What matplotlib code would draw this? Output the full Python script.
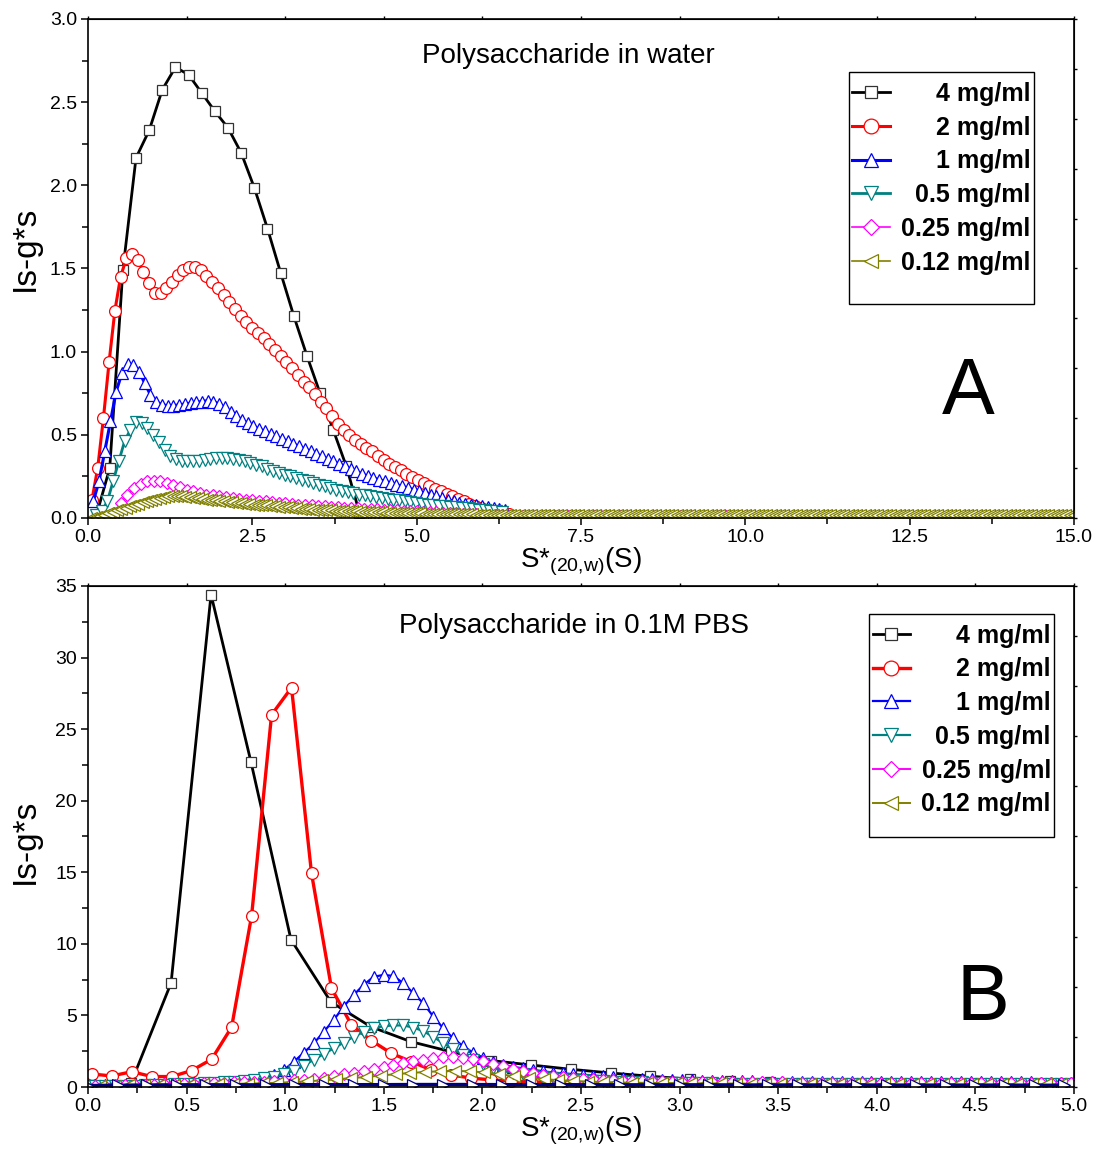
import matplotlib
matplotlib.use("Agg")
import matplotlib.pyplot as plt
import numpy as np
from matplotlib.patches import Rectangle
from matplotlib.ticker import FormatStrFormatter, MultipleLocator

plt.rcParams["font.family"] = ["Liberation Sans", "DejaVu Sans"]
plt.rcParams["mathtext.default"] = "regular"

# ---------------- panel A : polysaccharide in water ----------------
# sampling grids (start, step) per series, x in S
a_black_grid = (0.13, 0.2)
a_red_grid = (0.06, 0.087)
a_blue_grid = (0.08, 0.087)
a_teal_grid = (0.12, 0.087)
a_mag_grid = (0.3, 0.1)
a_olive_grid = (0.05, 0.065)

a_black = [0.02, 0.30, 1.49, 2.165, 2.33, 2.575, 2.71, 2.665, 2.555, 2.445,
           2.345, 2.195, 1.985, 1.74, 1.475, 1.215, 0.975, 0.75, 0.53, 0.31,
           0.03, 0.0]

a_red = [0.11, 0.30, 0.60, 0.94, 1.245, 1.45, 1.56, 1.59, 1.55, 1.48,
         1.41, 1.355, 1.35, 1.38, 1.42, 1.46, 1.49, 1.51, 1.51, 1.49,
         1.455, 1.42, 1.385, 1.34, 1.30, 1.255, 1.215, 1.18, 1.145, 1.11,
         1.08, 1.045, 1.01, 0.975, 0.94, 0.90, 0.86, 0.82, 0.79, 0.745,
         0.70, 0.66, 0.61, 0.565, 0.53, 0.50, 0.47, 0.445, 0.42, 0.40,
         0.375, 0.35, 0.325, 0.305, 0.29, 0.265, 0.245, 0.23, 0.21, 0.19,
         0.175, 0.16, 0.145, 0.13, 0.115, 0.10, 0.085, 0.07, 0.06, 0.05,
         0.04, 0.035, 0.03, 0.025]

a_blue = [0.10, 0.22, 0.40, 0.58, 0.76, 0.87, 0.925, 0.92, 0.88, 0.81,
          0.74, 0.70, 0.68, 0.675, 0.675, 0.68, 0.685, 0.69, 0.695, 0.70,
          0.705, 0.70, 0.685, 0.665, 0.64, 0.615, 0.59, 0.57, 0.55, 0.535,
          0.52, 0.505, 0.49, 0.475, 0.46, 0.445, 0.43, 0.415, 0.40, 0.385,
          0.37, 0.355, 0.34, 0.325, 0.31, 0.295, 0.28, 0.265, 0.25, 0.24,
          0.23, 0.22, 0.21, 0.20, 0.19, 0.18, 0.17, 0.16, 0.15, 0.14,
          0.13, 0.12, 0.11, 0.10, 0.09, 0.085, 0.08, 0.075, 0.07, 0.065,
          0.06, 0.055, 0.05]

a_teal = [0.02, 0.04, 0.10, 0.22, 0.34, 0.46, 0.53, 0.575, 0.57, 0.54,
          0.50, 0.455, 0.41, 0.375, 0.355, 0.345, 0.34, 0.34, 0.345, 0.35,
          0.355, 0.36, 0.36, 0.36, 0.355, 0.35, 0.34, 0.33, 0.32, 0.31,
          0.295, 0.285, 0.27, 0.26, 0.25, 0.24, 0.23, 0.22, 0.21, 0.20,
          0.19, 0.18, 0.17, 0.16, 0.155, 0.15, 0.14, 0.135, 0.13, 0.125,
          0.12, 0.115, 0.11, 0.105, 0.10, 0.095, 0.09, 0.085, 0.08, 0.077,
          0.074, 0.07, 0.067, 0.064, 0.06, 0.057, 0.054, 0.05, 0.047, 0.044,
          0.04, 0.037]

a_mag = [0.00, 0.03, 0.09, 0.14, 0.18, 0.205, 0.22, 0.225, 0.22, 0.21,
         0.20, 0.185, 0.17, 0.16, 0.15, 0.14, 0.135, 0.13, 0.125, 0.12,
         0.115, 0.11, 0.105, 0.10, 0.10, 0.095, 0.09, 0.09, 0.085, 0.08,
         0.08, 0.075, 0.07, 0.07, 0.065, 0.065, 0.06, 0.06, 0.058, 0.056,
         0.054, 0.052, 0.05, 0.048, 0.046, 0.044, 0.042, 0.04, 0.038, 0.036,
         0.034, 0.032, 0.03, 0.028, 0.026, 0.024, 0.022, 0.02, 0.018, 0.016,
         0.015, 0.014, 0.013, 0.012, 0.012, 0.012, 0.012, 0.012, 0.012, 0.012,
         0.012, 0.012, 0.012, 0.012, 0.012, 0.012, 0.012, 0.012, 0.012, 0.012,
         0.012, 0.012, 0.012, 0.012, 0.012, 0.012, 0.012, 0.012, 0.012, 0.012,
         0.012, 0.012, 0.012, 0.012, 0.012, 0.012, 0.012, 0.012]

a_olive = [0.00, 0.005, 0.01, 0.02, 0.03, 0.035, 0.045, 0.055, 0.06, 0.07,
           0.08, 0.085, 0.095, 0.10, 0.11, 0.115, 0.12, 0.125, 0.13, 0.13,
           0.13, 0.13, 0.125, 0.125, 0.12, 0.12, 0.115, 0.11, 0.11, 0.105,
           0.10, 0.10, 0.095, 0.095, 0.09, 0.09, 0.085, 0.085, 0.08, 0.08,
           0.075, 0.075, 0.07, 0.07, 0.068, 0.065, 0.063, 0.06, 0.058, 0.056,
           0.054, 0.052, 0.05, 0.049, 0.048, 0.046, 0.045, 0.044, 0.043, 0.042,
           0.041, 0.04, 0.039, 0.038, 0.037, 0.036, 0.035, 0.034, 0.033, 0.032,
           0.032, 0.031, 0.03, 0.03, 0.029, 0.028, 0.028, 0.027, 0.026, 0.026,
           0.025, 0.025, 0.024, 0.024, 0.023, 0.023, 0.022, 0.022, 0.021, 0.021,
           0.02, 0.02, 0.02, 0.019, 0.019, 0.018, 0.018, 0.018, 0.017, 0.017,
           0.017,
           0.016, 0.016, 0.016, 0.016, 0.016, 0.016, 0.016, 0.016, 0.016, 0.016,
           0.016, 0.016, 0.016, 0.016, 0.016, 0.016, 0.016, 0.016, 0.016, 0.016,
           0.016, 0.016, 0.016, 0.016, 0.016, 0.016, 0.016, 0.016, 0.016, 0.016,
           0.016, 0.016, 0.016, 0.016, 0.016, 0.016, 0.016, 0.016, 0.016, 0.016,
           0.016, 0.016, 0.016, 0.016, 0.016, 0.016, 0.016, 0.016, 0.016, 0.016,
           0.016, 0.016, 0.016, 0.016, 0.016, 0.016, 0.016, 0.016, 0.016, 0.016,
           0.016, 0.016, 0.016, 0.016, 0.016, 0.016, 0.016, 0.016, 0.016, 0.016,
           0.016, 0.016, 0.016, 0.016, 0.016, 0.016, 0.016, 0.016, 0.016, 0.016,
           0.016, 0.016, 0.016, 0.016, 0.016, 0.016, 0.016, 0.016, 0.016, 0.016,
           0.016, 0.016, 0.016, 0.016, 0.016, 0.016, 0.016, 0.016, 0.016, 0.016,
           0.016, 0.016, 0.016, 0.016, 0.016, 0.016, 0.016, 0.016, 0.016, 0.016,
           0.016, 0.016, 0.016, 0.016, 0.016, 0.016, 0.016, 0.016, 0.016, 0.016,
           0.016, 0.016, 0.016, 0.016, 0.016, 0.016, 0.016, 0.016, 0.016, 0.016]

# ---------------- panel B : polysaccharide in 0.1M PBS ----------------
b_black_grid = (0.016, 0.2026)
b_red_grid = (0.019, 0.1013)
b_fine_grid = (0.034, 0.0505)
b_olive_grid = (0.06, 0.075)
b_navy_grid = (0.0, 0.15)

b_black = [0.14, 0.30, 7.27, 34.4, 22.7, 10.3, 5.94, 4.21, 3.17, 2.47,
           1.85, 1.54, 1.24, 0.98, 0.75, 0.55, 0.42, 0.32, 0.25, 0.20,
           0.17, 0.15, 0.13, 0.12, 0.11]

b_red = [0.91, 0.77, 1.07, 0.73, 0.73, 1.15, 1.94, 4.18, 11.95, 26.0,
         27.9, 14.93, 6.9, 4.33, 3.24, 2.35, 1.77, 1.19, 0.84, 0.62,
         0.50, 0.42, 0.36, 0.32, 0.30, 0.28, 0.27, 0.26, 0.25, 0.24,
         0.23, 0.22, 0.22, 0.21, 0.21, 0.20, 0.20, 0.20, 0.19, 0.19,
         0.19, 0.18, 0.18, 0.18, 0.18, 0.17, 0.17, 0.17, 0.17, 0.17]

b_blue = [0.12, 0.13, 0.14, 0.15, 0.16, 0.17, 0.18, 0.20, 0.22, 0.24,
          0.25, 0.27, 0.29, 0.32, 0.36, 0.42, 0.50, 0.60, 0.84, 1.19,
          1.77, 2.40, 3.05, 3.86, 4.68, 5.62, 6.43, 7.13, 7.70, 7.83,
          7.76, 7.24, 6.55, 5.85, 4.92, 4.10, 3.40, 2.85, 2.40, 2.05,
          1.75, 1.55, 1.40, 1.30, 1.20, 1.10, 1.00, 0.95, 0.90, 0.85,
          0.80, 0.75, 0.70, 0.66, 0.62, 0.58, 0.55, 0.52, 0.50, 0.48,
          0.46, 0.44, 0.43, 0.42, 0.41, 0.40, 0.39, 0.38, 0.38, 0.37,
          0.37, 0.36, 0.36, 0.36, 0.35, 0.35, 0.35, 0.35, 0.34, 0.34,
          0.34, 0.34, 0.34, 0.33, 0.33, 0.33, 0.33, 0.33, 0.33, 0.32,
          0.32, 0.32, 0.32, 0.32, 0.32, 0.31, 0.31, 0.31, 0.31]

b_teal = [0.05, 0.06, 0.07, 0.08, 0.10, 0.12, 0.14, 0.16, 0.18, 0.20,
          0.22, 0.25, 0.28, 0.32, 0.36, 0.42, 0.50, 0.60, 0.72, 0.90,
          1.15, 1.50, 1.90, 2.30, 2.70, 3.10, 3.50, 3.85, 4.10, 4.25,
          4.30, 4.30, 4.15, 3.90, 3.50, 3.05, 2.65, 2.25, 1.90, 1.60,
          1.35, 1.15, 1.00, 0.88, 0.78, 0.70, 0.63, 0.57, 0.52, 0.48,
          0.44, 0.41, 0.38, 0.36, 0.34, 0.32, 0.30, 0.29, 0.28, 0.27,
          0.26, 0.25, 0.25, 0.24, 0.24, 0.23, 0.23, 0.22, 0.22, 0.22,
          0.21, 0.21, 0.21, 0.21, 0.20, 0.20, 0.20, 0.20, 0.20, 0.20,
          0.19, 0.19, 0.19, 0.19, 0.19, 0.19, 0.19, 0.18, 0.18, 0.18,
          0.18, 0.18, 0.18, 0.18, 0.18, 0.18, 0.18, 0.18, 0.18]

b_mag = [0.10, 0.10, 0.12, 0.12, 0.14, 0.15, 0.16, 0.18, 0.20, 0.22,
         0.24, 0.26, 0.28, 0.30, 0.32, 0.34, 0.36, 0.38, 0.40, 0.43,
         0.47, 0.52, 0.58, 0.66, 0.76, 0.88, 1.00, 1.13, 1.27, 1.42,
         1.55, 1.67, 1.80, 1.92, 2.02, 2.08, 2.10, 2.05, 1.95, 1.80,
         1.62, 1.45, 1.28, 1.12, 0.98, 0.86, 0.76, 0.68, 0.62, 0.57,
         0.53, 0.50, 0.47, 0.45, 0.43, 0.41, 0.40, 0.39, 0.38, 0.37,
         0.36, 0.35, 0.35, 0.34, 0.34, 0.33, 0.33, 0.32, 0.32, 0.32,
         0.31, 0.31, 0.31, 0.30, 0.30, 0.30, 0.30, 0.30, 0.29, 0.29,
         0.29, 0.29, 0.29, 0.29, 0.28, 0.28, 0.28, 0.28, 0.28, 0.28,
         0.28, 0.28, 0.27, 0.27, 0.27, 0.27, 0.27, 0.27, 0.27]

b_olive = [0.10, 0.10, 0.12, 0.12, 0.14, 0.15, 0.16, 0.18, 0.20, 0.22,
           0.24, 0.26, 0.30, 0.34, 0.40, 0.46, 0.54, 0.62, 0.70, 0.80,
           0.90, 0.98, 1.05, 1.10, 1.12, 1.10, 1.02, 0.90, 0.76, 0.64,
           0.55, 0.48, 0.42, 0.38, 0.35, 0.32, 0.30, 0.29, 0.28, 0.27,
           0.26, 0.25, 0.25, 0.24, 0.24, 0.23, 0.23, 0.22, 0.22, 0.22,
           0.21, 0.21, 0.21, 0.20, 0.20, 0.20, 0.20, 0.20, 0.19, 0.19,
           0.19, 0.19, 0.19, 0.19, 0.18, 0.18]

# extra baseline trace (not in the legend)
b_navy = [0.10, 0.12, 0.14, 0.15, 0.15, 0.15, 0.15, 0.16, 0.16, 0.16,
          0.16, 0.17, 0.17, 0.17, 0.16, 0.16, 0.16, 0.15, 0.15, 0.15,
          0.15, 0.15, 0.14, 0.14, 0.14, 0.14, 0.14, 0.13, 0.13, 0.13,
          0.13, 0.13, 0.12, 0.12]

labels = ["4 mg/ml", "2 mg/ml", "1 mg/ml", "0.5 mg/ml", "0.25 mg/ml", "0.12 mg/ml"]
colors = ["#000000", "#ff0000", "#0000ff", "#008080", "#ff00ff", "#808000"]
markers = ["s", "o", "^", "v", "D", "<"]
msizes = [7, 8.5, 8.5, 8.5, 6.5, 8.5]


def grid(start_step, vals):
    start, step = start_step
    return start + step * np.arange(len(vals))


def finish_legend(fig, leg, pad_side, pad_top, pad_bottom):
    # right-align the labels, then draw an Origin-like frame around the legend
    fig.canvas.draw()
    r = fig.canvas.get_renderer()
    widths = [t.get_window_extent(r).width for t in leg.get_texts()]
    wmax = max(widths)
    for t, w in zip(leg.get_texts(), widths):
        t.set_position((wmax - w, 0))
    bb = leg.get_window_extent(r)
    inv = fig.transFigure.inverted()
    (x0, y0), (x1, y1) = inv.transform([[bb.x0 - pad_side, bb.y0 - pad_bottom],
                                        [bb.x1 + pad_side, bb.y1 + pad_top]])
    fig.add_artist(Rectangle((x0, y0), x1 - x0, y1 - y0, transform=fig.transFigure,
                             fill=False, ec="black", lw=1.0))


def style_axes(ax, xmax, xmaj, xmin, ymax, ymaj, ymin, xfmt, yfmt):
    ax.set_xlim(0, xmax)
    ax.set_ylim(0, ymax)
    ax.xaxis.set_major_locator(MultipleLocator(xmaj))
    ax.xaxis.set_minor_locator(MultipleLocator(xmin))
    ax.yaxis.set_major_locator(MultipleLocator(ymaj))
    ax.yaxis.set_minor_locator(MultipleLocator(ymin))
    ax.xaxis.set_major_formatter(FormatStrFormatter(xfmt))
    ax.yaxis.set_major_formatter(FormatStrFormatter(yfmt))
    ax.tick_params(which="major", direction="out", length=5, width=1.1,
                   labelsize=14, pad=3)
    ax.tick_params(which="minor", direction="out", length=4, width=1.1)
    for s in ax.spines.values():
        s.set_linewidth(1.2)
    top = ax.secondary_xaxis("top")
    top.set_xticks(np.linspace(0, xmax, 11))
    top.tick_params(direction="out", length=2.5, width=1, labeltop=False)
    right = ax.secondary_yaxis("right")
    right.set_yticks(np.linspace(0, ymax, 11))
    right.tick_params(direction="out", length=2.5, width=1, labelright=False)
    ax.set_ylabel("Is-g*s", fontsize=24)
    ax.set_xlabel(r"S*$_{(20{,}w)}$(S)", fontsize=20, labelpad=0)


def add_legend(ax, anchor):
    return ax.legend(loc="upper right", bbox_to_anchor=anchor, borderaxespad=0,
                     frameon=False, prop={"weight": "bold", "size": 18},
                     handlelength=1.5, handletextpad=0.45, labelspacing=0.39,
                     borderpad=0.1, markerscale=1.25)


fig = plt.figure(figsize=(10.95, 11.51), dpi=100)
ax1 = fig.add_axes([0.0804, 0.55, 0.9004, 0.4335])
ax2 = fig.add_axes([0.0804, 0.0556, 0.9004, 0.4353])

# panel A
a_series = [(a_black_grid, a_black), (a_red_grid, a_red), (a_blue_grid, a_blue),
            (a_teal_grid, a_teal), (a_mag_grid, a_mag), (a_olive_grid, a_olive)]
a_lw = [2.0, 2.2, 2.2, 2.0, 1.2, 1.2]
for (g, vals), lab, c, m, ms, lw in zip(a_series, labels, colors, markers, msizes, a_lw):
    ax1.plot(grid(g, vals), vals, color=c, lw=lw, marker=m, ms=ms, mfc="white",
             mec=c if c != "#000000" else "#333333", mew=0.9, label=lab)

style_axes(ax1, 15, 2.5, 1.25, 3.0, 0.5, 0.25, "%.1f", "%.1f")
ax1.yaxis.set_label_coords(-0.048, 0.54)
ax1.text(0.487, 0.926, "Polysaccharide in water", transform=ax1.transAxes,
         fontsize=20, ha="center", va="center")
ax1.text(0.8925, 0.25, "A", transform=ax1.transAxes, fontsize=57,
         ha="center", va="center")
leg1 = add_legend(ax1, (0.9585, 0.879))

# panel B
b_series = [(b_black_grid, b_black), (b_red_grid, b_red), (b_fine_grid, b_blue),
            (b_fine_grid, b_teal), (b_fine_grid, b_mag), (b_olive_grid, b_olive)]
b_lw = [2.0, 2.4, 1.6, 1.6, 1.4, 1.4]
for (g, vals), lab, c, m, ms, lw in zip(b_series, labels, colors, markers, msizes, b_lw):
    ax2.plot(grid(g, vals), vals, color=c, lw=lw, marker=m, ms=ms, mfc="white",
             mec=c if c != "#000000" else "#333333", mew=0.9, label=lab)
ax2.plot(grid(b_navy_grid, b_navy), b_navy, color="#000080", lw=2.5, marker=">",
         ms=8, mfc="white", mec="#000080", mew=0.9, label="_nolegend_")

style_axes(ax2, 5, 0.5, 0.25, 35, 5, 2.5, "%.1f", "%d")
ax2.yaxis.set_label_coords(-0.048, 0.49)
ax2.text(0.493, 0.92, "Polysaccharide in 0.1M PBS", transform=ax2.transAxes,
         fontsize=20, ha="center", va="center")
ax2.text(0.9077, 0.174, "B", transform=ax2.transAxes, fontsize=57,
         ha="center", va="center")
leg2 = add_legend(ax2, (0.979, 0.930))

finish_legend(fig, leg1, 1, 7, 27)
finish_legend(fig, leg2, 1, 7, 18)

fig.savefig("out.png", dpi=100)
